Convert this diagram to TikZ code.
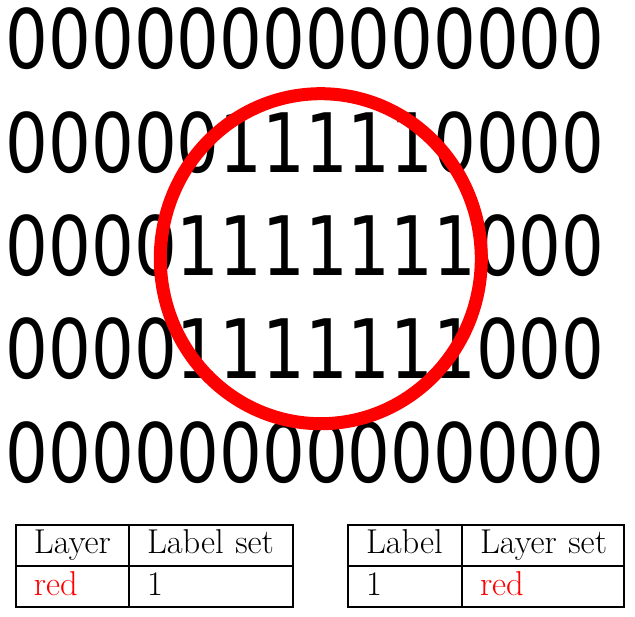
\documentclass[tikz,border=0pt]{standalone}
\usepackage{fontspec}
\usepackage{xcolor}
\usepackage{tikz}
\usetikzlibrary{positioning}
\newfontfamily\bitfont[FakeStretch=0.82]{DejaVu Sans}
\definecolor{ring}{HTML}{FF0000}
\tikzset{
  bitrow/.style={anchor=base west,inner sep=0pt,font=\bitfont\fontsize{82}{82}\selectfont},
  cellbox/.style={draw=black,line width=1.2pt,outer sep=0pt,inner xsep=18pt,inner ysep=0pt,
    minimum height=41pt,text height=25pt,text depth=8pt,align=left,
    font=\fontsize{34.5}{40}\selectfont},
}

\begin{document}
\begin{tikzpicture}[x=1pt,y=-1pt]
  \useasboundingbox (0,0) rectangle (635,617);
  % bit mask with the red ring around the ones
  \foreach \bits [count=\r] in {00000000000000,00000111110000,00001111111000,00001111111000,00000000000000}{
    \node[bitrow] (row\r) at (5.6,{69+103.3*(\r-1)}) {\bits};}
  \coordinate (hub) at (320.8,258.7);
  \draw[ring,line width=13pt] (hub) ellipse [x radius=160.5pt,y radius=165pt];
  % layer -> label set
  \node[cellbox,text width=77pt,anchor=north west] (lay-head) at (16,525) {\mbox{Layer}};
  \node[cellbox,text width=128pt,right=0pt of lay-head] (lab-head) {\mbox{Label set}};
  \node[cellbox,text width=77pt,below=0pt of lay-head] (lay-val) {\textcolor{ring}{red}};
  \node[cellbox,text width=128pt,below=0pt of lab-head] (lab-val) {1};
  % label -> layer set
  \node[cellbox,text width=78pt,anchor=north west] (lbl-head) at (348,525) {\mbox{Label}};
  \node[cellbox,text width=126pt,right=0pt of lbl-head] (lys-head) {\mbox{Layer set}};
  \node[cellbox,text width=78pt,below=0pt of lbl-head] (lbl-val) {1};
  \node[cellbox,text width=126pt,below=0pt of lys-head] (lys-val) {\textcolor{ring}{red}};
\end{tikzpicture}
\end{document}
